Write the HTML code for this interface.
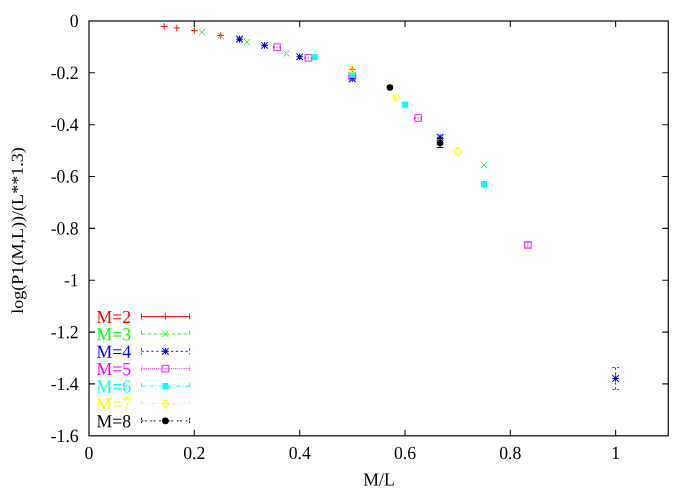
<!DOCTYPE html>
<html><head><meta charset="utf-8"><title>plot</title>
<style>
html,body{margin:0;padding:0;background:#fff;}
body{width:698px;height:488px;overflow:hidden;}
svg{display:block;will-change:transform;}
text{font-family:"Liberation Serif",serif;font-size:17.7px;}
</style></head><body>
<svg width="698" height="488" viewBox="0 0 698 488">
<rect x="0" y="0" width="698" height="488" fill="#fff"/>

<rect x="89.0" y="21.0" width="579.3" height="414.8" fill="none" stroke="#2a2a2a" stroke-width="1.4"/>
<text transform="translate(89.0 459.0) rotate(0.03) scale(1 1.04)" text-anchor="middle">0</text>
<path d="M194.3 435.75 v-6 M194.3 21.0 v6" stroke="#111" stroke-width="1.1" fill="none"/>
<text transform="translate(194.3 459.0) rotate(0.03) scale(1 1.04)" text-anchor="middle">0.2</text>
<path d="M299.7 435.75 v-6 M299.7 21.0 v6" stroke="#111" stroke-width="1.1" fill="none"/>
<text transform="translate(299.7 459.0) rotate(0.03) scale(1 1.04)" text-anchor="middle">0.4</text>
<path d="M405.0 435.75 v-6 M405.0 21.0 v6" stroke="#111" stroke-width="1.1" fill="none"/>
<text transform="translate(405.0 459.0) rotate(0.03) scale(1 1.04)" text-anchor="middle">0.6</text>
<path d="M510.3 435.75 v-6 M510.3 21.0 v6" stroke="#111" stroke-width="1.1" fill="none"/>
<text transform="translate(510.3 459.0) rotate(0.03) scale(1 1.04)" text-anchor="middle">0.8</text>
<path d="M615.6 435.75 v-6 M615.6 21.0 v6" stroke="#111" stroke-width="1.1" fill="none"/>
<text transform="translate(615.6 459.0) rotate(0.03) scale(1 1.04)" text-anchor="middle">1</text>
<text transform="translate(78.7 27.1) rotate(0.03) scale(1 1.06)" text-anchor="end">0</text>
<path d="M89.0 72.8 h6 M668.3 72.8 h-6" stroke="#111" stroke-width="1.1" fill="none"/>
<text transform="translate(78.7 78.9) rotate(0.03) scale(1 1.06)" text-anchor="end">-0.2</text>
<path d="M89.0 124.7 h6 M668.3 124.7 h-6" stroke="#111" stroke-width="1.1" fill="none"/>
<text transform="translate(78.7 130.8) rotate(0.03) scale(1 1.06)" text-anchor="end">-0.4</text>
<path d="M89.0 176.5 h6 M668.3 176.5 h-6" stroke="#111" stroke-width="1.1" fill="none"/>
<text transform="translate(78.7 182.6) rotate(0.03) scale(1 1.06)" text-anchor="end">-0.6</text>
<path d="M89.0 228.4 h6 M668.3 228.4 h-6" stroke="#111" stroke-width="1.1" fill="none"/>
<text transform="translate(78.7 234.5) rotate(0.03) scale(1 1.06)" text-anchor="end">-0.8</text>
<path d="M89.0 280.2 h6 M668.3 280.2 h-6" stroke="#111" stroke-width="1.1" fill="none"/>
<text transform="translate(78.7 286.3) rotate(0.03) scale(1 1.06)" text-anchor="end">-1</text>
<path d="M89.0 332.1 h6 M668.3 332.1 h-6" stroke="#111" stroke-width="1.1" fill="none"/>
<text transform="translate(78.7 338.2) rotate(0.03) scale(1 1.06)" text-anchor="end">-1.2</text>
<path d="M89.0 383.9 h6 M668.3 383.9 h-6" stroke="#111" stroke-width="1.1" fill="none"/>
<text transform="translate(78.7 390.0) rotate(0.03) scale(1 1.06)" text-anchor="end">-1.4</text>
<text transform="translate(78.7 441.9) rotate(0.03) scale(1 1.06)" text-anchor="end">-1.6</text>
<text transform="translate(379.0 485.6) rotate(0.03) scale(1 1.04)" text-anchor="middle">M/L</text>
<text transform="translate(22.9 230.5) rotate(-90.03) scale(1.022 0.94)" text-anchor="middle">log(P1(M,L))/(L**1.3)</text>
<path d="M160.9 26.5h6.6M164.2 23.2v6.6" stroke="#ff0000" stroke-width="0.9" fill="none"/>
<path d="M173.5 27.9h6.6M176.8 24.6v6.6" stroke="#ff0000" stroke-width="0.9" fill="none"/>
<path d="M191.0 30.6h6.6M194.3 27.3v6.6" stroke="#ff0000" stroke-width="0.9" fill="none"/>
<path d="M217.4 35.5h6.6M220.7 32.2v6.6" stroke="#ff0000" stroke-width="0.9" fill="none"/>
<path d="M261.2 45.3h6.6M264.5 42.0v6.6" stroke="#ff0000" stroke-width="0.9" fill="none"/>
<path d="M349.0 69.3h6.6M352.3 66.0v6.6" stroke="#ff0000" stroke-width="0.9" fill="none"/>
<path d="M198.7 29.1l6.3 6.3M198.7 35.4l6.3 -6.3" stroke="#00ff00" stroke-width="0.9" fill="none"/>
<path d="M217.5 32.6l6.3 6.3M217.5 38.9l6.3 -6.3" stroke="#00ff00" stroke-width="0.9" fill="none"/>
<path d="M243.8 38.9l6.3 6.3M243.8 45.1l6.3 -6.3" stroke="#00ff00" stroke-width="0.9" fill="none"/>
<path d="M283.3 50.2l6.3 6.3M283.3 56.5l6.3 -6.3" stroke="#00ff00" stroke-width="0.9" fill="none"/>
<path d="M349.2 76.4l6.3 6.3M349.2 82.8l6.3 -6.3" stroke="#00ff00" stroke-width="0.9" fill="none"/>
<path d="M480.8 161.7l6.3 6.3M480.8 168.0l6.3 -6.3" stroke="#00ff00" stroke-width="0.9" fill="none"/>
<path d="M236.2 39.1h6.6M239.5 35.8v6.6M236.2 35.8l6.6 6.6M236.2 42.4l6.6 -6.6" stroke="#0000ff" stroke-width="1.05" fill="none"/>
<path d="M261.2 45.3h6.6M264.5 42.0v6.6M261.2 42.0l6.6 6.6M261.2 48.6l6.6 -6.6" stroke="#0000ff" stroke-width="1.05" fill="none"/>
<path d="M296.4 56.8h6.6M299.7 53.5v6.6M296.4 53.5l6.6 6.6M296.4 60.1l6.6 -6.6" stroke="#0000ff" stroke-width="1.05" fill="none"/>
<path d="M349.0 78.6h6.6M352.3 75.3v6.6M349.0 75.3l6.6 6.6M349.0 81.9l6.6 -6.6" stroke="#0000ff" stroke-width="1.05" fill="none"/>
<path d="M436.8 137.2h6.6M440.1 133.9v6.6M436.8 133.9l6.6 6.6M436.8 140.5l6.6 -6.6" stroke="#0000ff" stroke-width="1.05" fill="none"/>
<path d="M615.6 367.6v21.8M612.3 367.6h6.6M612.3 389.4h6.6" stroke="#0000ff" stroke-width="0.9" fill="none" stroke-dasharray="2.3,2.6"/>
<path d="M612.3 378.5h6.6M615.6 375.2v6.6M612.3 375.2l6.6 6.6M612.3 381.8l6.6 -6.6" stroke="#0000ff" stroke-width="1.05" fill="none"/>
<rect x="276.43" y="46.50" width="1.3" height="1.4" fill="#ff00ff" fill-opacity="0.7"/><rect x="273.18" y="46.40" width="1.5" height="1.6" fill="#ff00ff"/><rect x="279.48" y="46.40" width="1.5" height="1.6" fill="#ff00ff"/>
<rect x="273.8" y="43.9" width="6.6" height="6.6" stroke="#ff00ff" stroke-width="1.2" stroke-opacity="0.75" fill="none"/>
<rect x="307.78" y="57.10" width="1.3" height="1.4" fill="#ff00ff" fill-opacity="0.7"/><rect x="304.53" y="57.00" width="1.5" height="1.6" fill="#ff00ff"/><rect x="310.83" y="57.00" width="1.5" height="1.6" fill="#ff00ff"/>
<rect x="305.1" y="54.5" width="6.6" height="6.6" stroke="#ff00ff" stroke-width="1.2" stroke-opacity="0.75" fill="none"/>
<rect x="351.67" y="75.10" width="1.3" height="1.4" fill="#ff00ff" fill-opacity="0.7"/><rect x="348.42" y="75.00" width="1.5" height="1.6" fill="#ff00ff"/><rect x="354.72" y="75.00" width="1.5" height="1.6" fill="#ff00ff"/>
<rect x="349.0" y="72.5" width="6.6" height="6.6" stroke="#ff00ff" stroke-width="1.2" stroke-opacity="0.75" fill="none"/>
<rect x="417.50" y="117.30" width="1.3" height="1.4" fill="#ff00ff" fill-opacity="0.7"/><rect x="414.25" y="117.20" width="1.5" height="1.6" fill="#ff00ff"/><rect x="420.55" y="117.20" width="1.5" height="1.6" fill="#ff00ff"/>
<rect x="414.8" y="114.7" width="6.6" height="6.6" stroke="#ff00ff" stroke-width="1.2" stroke-opacity="0.75" fill="none"/>
<path d="M527.9 242.7v4.4M524.6 242.7h6.6M524.6 247.1h6.6" stroke="#ff00ff" stroke-width="0.9" fill="none" stroke-dasharray="1,1.1"/>
<rect x="524.6" y="241.6" width="6.6" height="6.6" stroke="#ff00ff" stroke-width="1.2" stroke-opacity="0.75" fill="none"/>
<rect x="311.7" y="54.1" width="6.0" height="6.0" fill="#00ffff"/>
<rect x="349.3" y="71.8" width="6.0" height="6.0" fill="#00ffff"/>
<rect x="402.0" y="101.6" width="6.0" height="6.0" fill="#00ffff"/>
<rect x="481.0" y="181.0" width="6.0" height="6.0" fill="#00ffff"/>
<path d="M352.3 68.2v3.0M349.0 68.2h6.6M349.0 71.2h6.6" stroke="#ffff00" stroke-width="0.9" fill="none" stroke-dasharray="3,3.2,1,3"/>
<circle cx="352.3" cy="69.7" r="3.3" stroke="#ffff00" stroke-width="0.9" fill="none"/>
<path d="M396.2 96.2v3.0M392.9 96.2h6.6M392.9 99.2h6.6" stroke="#ffff00" stroke-width="0.9" fill="none" stroke-dasharray="3,3.2,1,3"/>
<circle cx="396.2" cy="97.7" r="3.3" stroke="#ffff00" stroke-width="0.9" fill="none"/>
<path d="M457.6 147.5v7.8M454.3 147.5h6.6M454.3 155.3h6.6" stroke="#ffff00" stroke-width="0.9" fill="none" stroke-dasharray="3,3.2,1,3"/>
<circle cx="457.6" cy="151.4" r="3.3" stroke="#ffff00" stroke-width="0.9" fill="none"/>
<circle cx="389.9" cy="87.5" r="3.3" fill="#000000"/>
<path d="M440.1 138.5v9.0M436.8 138.5h6.6M436.8 147.5h6.6" stroke="#000000" stroke-width="0.9" fill="none"/>
<circle cx="440.1" cy="143.0" r="3.3" fill="#000000"/>
<text transform="translate(131.1 322.9) rotate(0.03) scale(1 1.04)" text-anchor="end" fill="#ff0000">M=2</text>
<path d="M141.5 316.5H189.6" stroke="#ff0000" stroke-width="0.9" fill="none"/>
<path d="M141.5 313.5v6M189.6 313.5v6" stroke="#ff0000" stroke-width="0.9" fill="none"/>
<path d="M162.1 316.5h6.6M165.4 313.2v6.6" stroke="#ff0000" stroke-width="0.9" fill="none"/>
<text transform="translate(131.1 340.3) rotate(0.03) scale(1 1.04)" text-anchor="end" fill="#00ff00">M=3</text>
<path d="M141.5 333.9H189.6" stroke="#00ff00" stroke-width="0.9" fill="none" stroke-dasharray="4,2"/>
<path d="M141.5 330.9v6M189.6 330.9v6" stroke="#00ff00" stroke-width="0.9" fill="none" stroke-dasharray="4,2"/>
<path d="M162.2 330.8l6.3 6.3M162.2 337.0l6.3 -6.3" stroke="#00ff00" stroke-width="0.9" fill="none"/>
<text transform="translate(131.1 357.7) rotate(0.03) scale(1 1.04)" text-anchor="end" fill="#0000ff">M=4</text>
<path d="M141.5 351.3H189.6" stroke="#0000ff" stroke-width="0.9" fill="none" stroke-dasharray="2.3,2.6"/>
<path d="M141.5 348.3v6M189.6 348.3v6" stroke="#0000ff" stroke-width="0.9" fill="none" stroke-dasharray="2.3,2.6"/>
<path d="M162.1 351.3h6.6M165.4 348.0v6.6M162.1 348.0l6.6 6.6M162.1 354.6l6.6 -6.6" stroke="#0000ff" stroke-width="1.05" fill="none"/>
<text transform="translate(131.1 375.1) rotate(0.03) scale(1 1.04)" text-anchor="end" fill="#ff00ff">M=5</text>
<path d="M141.5 368.7H189.6" stroke="#ff00ff" stroke-width="0.9" fill="none" stroke-dasharray="1,1.1"/>
<path d="M141.5 365.7v6M189.6 365.7v6" stroke="#ff00ff" stroke-width="0.9" fill="none" stroke-dasharray="1,1.1"/>
<rect x="162.1" y="365.4" width="6.6" height="6.6" stroke="#ff00ff" stroke-width="1.2" stroke-opacity="0.75" fill="none"/>
<text transform="translate(131.1 392.5) rotate(0.03) scale(1 1.04)" text-anchor="end" fill="#00ffff">M=6</text>
<path d="M141.5 386.1H189.6" stroke="#00ffff" stroke-width="0.9" fill="none" stroke-dasharray="4,1.9,1,1.8"/>
<path d="M141.5 383.1v6M189.6 383.1v6" stroke="#00ffff" stroke-width="0.9" fill="none" stroke-dasharray="4,1.9,1,1.8"/>
<rect x="162.4" y="383.1" width="6.0" height="6.0" fill="#00ffff"/>
<text transform="translate(131.1 409.9) rotate(0.03) scale(1 1.04)" text-anchor="end" fill="#ffff00">M=7</text>
<path d="M141.5 403.5H189.6" stroke="#ffff00" stroke-width="0.9" fill="none" stroke-dasharray="3,3.2,1,3"/>
<path d="M141.5 400.5v6M189.6 400.5v6" stroke="#ffff00" stroke-width="0.9" fill="none" stroke-dasharray="3,3.2,1,3"/>
<path d="M162.1 403.5h6.6" stroke="#ffff00" stroke-width="0.9"/>
<circle cx="165.4" cy="403.5" r="3.3" stroke="#ffff00" stroke-width="0.9" fill="none"/>
<text transform="translate(131.1 427.3) rotate(0.03) scale(1 1.04)" text-anchor="end" fill="#000000">M=8</text>
<path d="M141.5 420.9H189.6" stroke="#000000" stroke-width="0.9" fill="none" stroke-dasharray="2,1.3,2,3.5"/>
<path d="M141.5 417.9v6M189.6 417.9v6" stroke="#000000" stroke-width="0.9" fill="none" stroke-dasharray="2,1.3,2,3.5"/>
<circle cx="165.4" cy="420.9" r="3.3" fill="#000000"/>
</svg></body></html>
